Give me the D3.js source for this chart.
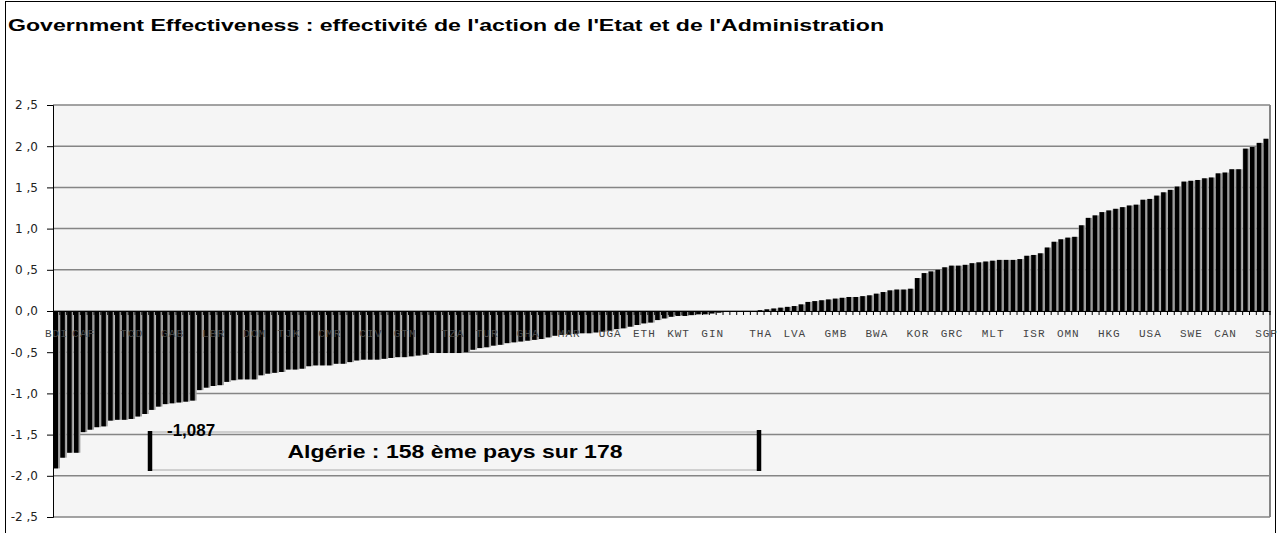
<!DOCTYPE html>
<html lang="fr">
<head>
<meta charset="utf-8">
<script src="https://d3js.org/d3.v7.min.js"></script>
<style>
  body { margin: 0; background: #fff; }
  svg text { font-family: "Liberation Sans", Arial, sans-serif; }
  .ytick text { font-family: "DejaVu Sans", Verdana, sans-serif; font-size: 12px; fill: #222; }
  .cat { font-family: "Liberation Mono", "Courier New", monospace; font-size: 11px; fill: #444; }
</style>
</head>
<body>
<script>
// countries sorted by score (lowest to highest), 178 in total
var countries = [
  "BDI","SOM","HTI","IRQ","CAF","AFG","PRK","ZWE","COD","TGO",
  "TKM","TCD","GNQ","SLE","MMR","LAO","ERI","GAB","NGA","KGZ",
  "DZA","NER","YEM","LBR","SDN","UZB","AGO","COG","PNG","DOM",
  "BLR","NPL","PAK","KHM","TJK","VEN","ECU","PRY","BOL","HND",
  "CMR","NIC","AZE","BEN","GEO","SYR","CIV","MDA","KEN","ZMB",
  "BIH","GTM","ALB","UKR","SEN","MLI","BFA","MWI","TZA","KAZ",
  "IRN","RUS","ARM","TUR","SLV","PER","MNG","PHL","IDN","GHA",
  "MKD","LKA","ROU","EGY","SRB","MAR","COL","BRA","MEX","IND",
  "ARG","UGA","MOZ","BGR","PAN","MDG","ETH","JOR","CHN","VNM",
  "RWA","KWT","HRV","JAM","TTO","LBN","GIN","SAU","BHR","NAM",
  "LSO","SWZ","FJI","THA","ZAF","POL","HUN","SVK","LVA","TUN",
  "LTU","CZE","ITA","MUS","GMB","URY","CRI","BRB","CYP","QAT",
  "BWA","SVN","EST","ARE","MYS","PRT","KOR","CHL","ESP","TWN",
  "MAC","GRC","SYC","CPV","BLZ","KNA","LCA","MLT","VCT","GRD",
  "DMA","ATG","BMU","ISR","BEL","JPN","IRL","FRA","OMN","DEU",
  "AUT","GBR","NZL","AUS","HKG","NLD","LUX","NOR","LIE","AND",
  "USA","ISL","DNK","FIN","CHE","MCO","SWE","TON","WSM","VUT",
  "SMR","CAN","MHL","PLW","FSM","KIR","TUV","SGP"
];

var scores = [
  -1.91,-1.78,-1.72,-1.72,-1.47,-1.44,-1.41,-1.40,-1.33,-1.32,
  -1.32,-1.31,-1.28,-1.25,-1.20,-1.16,-1.13,-1.12,-1.11,-1.10,
  -1.087,-0.96,-0.93,-0.91,-0.90,-0.86,-0.84,-0.83,-0.83,-0.83,
  -0.78,-0.76,-0.75,-0.74,-0.71,-0.71,-0.70,-0.67,-0.66,-0.66,
  -0.66,-0.64,-0.64,-0.62,-0.60,-0.59,-0.59,-0.59,-0.58,-0.57,
  -0.56,-0.56,-0.55,-0.54,-0.53,-0.51,-0.51,-0.51,-0.51,-0.51,
  -0.50,-0.47,-0.45,-0.44,-0.42,-0.41,-0.39,-0.38,-0.37,-0.36,
  -0.35,-0.34,-0.32,-0.30,-0.29,-0.28,-0.28,-0.27,-0.27,-0.26,
  -0.25,-0.24,-0.22,-0.21,-0.19,-0.17,-0.15,-0.14,-0.11,-0.09,
  -0.07,-0.06,-0.06,-0.05,-0.04,-0.04,-0.03,-0.02,-0.01,-0.01,
  0.00,0.00,0.00,0.01,0.02,0.03,0.04,0.05,0.06,0.08,
  0.11,0.12,0.13,0.14,0.15,0.16,0.17,0.17,0.18,0.19,
  0.21,0.23,0.25,0.26,0.26,0.27,0.40,0.46,0.48,0.50,
  0.53,0.55,0.55,0.56,0.58,0.59,0.60,0.61,0.62,0.62,
  0.62,0.63,0.67,0.68,0.70,0.77,0.84,0.87,0.89,0.90,
  1.04,1.13,1.16,1.20,1.22,1.24,1.26,1.28,1.29,1.35,
  1.36,1.40,1.44,1.47,1.51,1.57,1.58,1.59,1.61,1.62,
  1.67,1.68,1.72,1.72,1.97,1.99,2.04,2.09
];

// country codes printed under the zero line
var shownLabels = ["BDI","CAF","TCD","GAB","LBR","DOM","TJK","CMR","CIV","GTM",
  "TZA","TUR","GHA","MAR","UGA","ETH","KWT","GIN","THA","LVA","GMB","BWA",
  "KOR","GRC","MLT","ISR","OMN","HKG","USA","SWE","CAN","SGP"];

var yTicks = [2.5, 2.0, 1.5, 1.0, 0.5, 0.0, -0.5, -1.0, -1.5, -2.0, -2.5];

var title = "Government Effectiveness : effectivité de l'action de l'Etat et de l'Administration";
var noteValue = "-1,087";
var noteText = "Algérie : 158 ème pays sur 178";

var W = 1286, H = 533;
var plotLeft = 53, plotRight = 1270, plotTop = 105, plotBottom = 517;

var svg = d3.select("body").append("svg")
  .attr("width", W).attr("height", H);

// outer frame
svg.append("rect")
  .attr("x", 5.5).attr("y", 1.5)
  .attr("width", 1270).attr("height", H + 10)
  .attr("fill", "#fff").attr("stroke", "#000").attr("stroke-width", 1);

svg.append("text")
  .attr("x", 8).attr("y", 31)
  .attr("font-size", 17).attr("font-weight", "bold")
  .attr("textLength", 876).attr("lengthAdjust", "spacingAndGlyphs")
  .text(title);

var x = d3.scaleBand().domain(countries).range([plotLeft, plotRight]).paddingInner(0);
var y = d3.scaleLinear().domain([-2.5, 2.5]).range([plotBottom, plotTop]);

// plot background
svg.append("rect")
  .attr("x", plotLeft).attr("y", plotTop)
  .attr("width", plotRight - plotLeft).attr("height", plotBottom - plotTop)
  .attr("fill", "#f5f5f5");

// grid
svg.append("g").selectAll("line").data(yTicks).enter().append("line")
  .attr("x1", plotLeft).attr("x2", plotRight)
  .attr("y1", function(d) { return y(d); }).attr("y2", function(d) { return y(d); })
  .attr("stroke", "#858585").attr("stroke-width", 1.5);

svg.append("line")
  .attr("x1", plotRight).attr("x2", plotRight).attr("y1", plotTop).attr("y2", plotBottom)
  .attr("stroke", "#858585").attr("stroke-width", 2);

// bars: grey band behind, black bar in front
var bars = svg.append("g").selectAll("g").data(countries).enter().append("g");
bars.append("rect")
  .attr("x", function(d) { return x(d); })
  .attr("width", x.bandwidth())
  .attr("y", function(d, i) { return y(Math.max(0, scores[i])); })
  .attr("height", function(d, i) { return Math.abs(y(scores[i]) - y(0)); })
  .attr("fill", "#9a9a9a");
bars.append("rect")
  .attr("x", function(d) { return x(d) + 0.5; })
  .attr("width", x.bandwidth() * 0.66)
  .attr("y", function(d, i) { return y(Math.max(0, scores[i])); })
  .attr("height", function(d, i) { return Math.abs(y(scores[i]) - y(0)); })
  .attr("fill", "#000");

// y axis
var yAxis = d3.axisLeft(y).tickValues(yTicks).tickSize(6).tickPadding(9)
  .tickFormat(function(d) { return d3.format(".1f")(d).replace("−", "-").replace(".", " ,"); });
svg.append("g").attr("class", "ytick")
  .attr("transform", "translate(" + plotLeft + ",0)")
  .call(yAxis)
  .call(function(g) { g.selectAll("line").attr("stroke", "#000"); g.select(".domain").attr("stroke", "#000"); });

// x axis on zero line
var xAxis = d3.axisBottom(x).tickSize(4).tickFormat("").tickSizeOuter(0);
var xg = svg.append("g").attr("transform", "translate(0," + y(0) + ")").call(xAxis);
xg.select(".domain").attr("stroke", "#000");
xg.selectAll(".tick line").attr("stroke", "#000")
  .attr("transform", "translate(" + (x.bandwidth() / 2) + ",0)");

svg.append("g").selectAll("text")
  .data(countries.filter(function(c) { return shownLabels.indexOf(c) >= 0; }))
  .enter().append("text")
  .attr("class", "cat")
  .attr("x", function(d) { return x(d) + x.bandwidth() / 2; })
  .attr("y", y(0) + 26)
  .attr("text-anchor", "middle")
  .attr("letter-spacing", 1)
  .text(function(d) { return d; });

// annotation for Algeria
var note = svg.append("g");
note.append("rect")
  .attr("x", 150).attr("y", 432).attr("width", 609).attr("height", 38)
  .attr("fill", "none").attr("stroke", "#aaa").attr("stroke-width", 1);
note.append("line").attr("x1", 150).attr("x2", 150).attr("y1", 431).attr("y2", 471)
  .attr("stroke", "#000").attr("stroke-width", 4.5);
note.append("line").attr("x1", 759).attr("x2", 759).attr("y1", 430).attr("y2", 471)
  .attr("stroke", "#000").attr("stroke-width", 4.5);
note.append("text")
  .attr("x", 167).attr("y", 436)
  .attr("font-size", 17).attr("font-weight", "bold")
  .text(noteValue);
note.append("text")
  .attr("x", 455).attr("y", 458)
  .attr("text-anchor", "middle")
  .attr("font-size", 18).attr("font-weight", "bold")
  .attr("textLength", 335).attr("lengthAdjust", "spacingAndGlyphs")
  .text(noteText);
</script>
</body>
</html>
